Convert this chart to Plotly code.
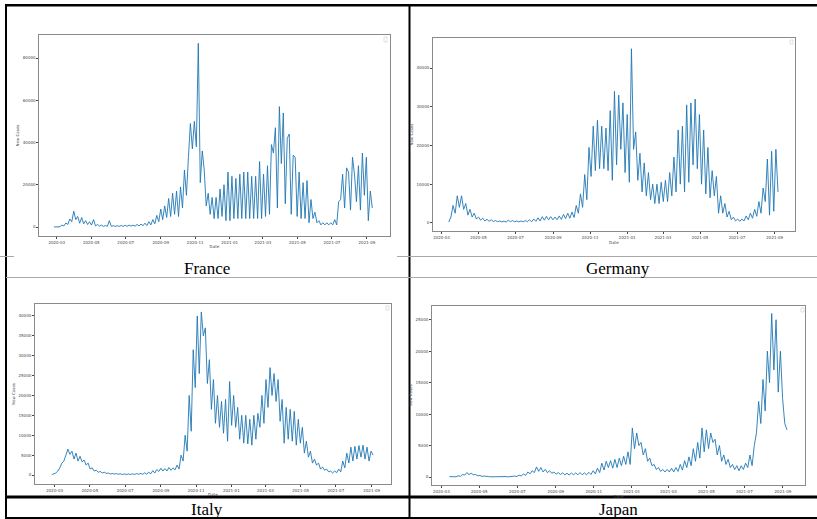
import pandas as pd
import plotly.graph_objects as go

W, H = 817, 519

# ---- data: daily new cases at half-week steps ----
france_start = "2020-02-25"
france_cases = [
    20, 10, 250, 100, 900, 500, 1900, 1200, 3800, 2500, 7500, 3500, 5000, 1800, 4500, 1500,
    3000, 1200, 2500, 900, 3500, 500, 1200, 400, 900, 300, 700, 300, 3000, 300, 600, 300,
    600, 300, 700, 300, 800, 300, 900, 400, 900, 400, 1200, 500, 1400, 600, 1800, 700,
    2500, 1000, 3500, 1500, 5500, 2500, 8500, 3500, 10000, 4500, 13500, 5000, 16000, 6000,
    17000, 5000, 19000, 9000, 27000, 15000, 33000, 49000, 37000, 50000, 38000, 87000,
    21000, 36000, 27000, 10000, 16000, 6000, 14000, 4000, 14000, 4000, 18000, 5000,
    20000, 3000, 26000, 3000, 24000, 4000, 23000, 4000, 25000, 4000, 26000, 4000,
    26000, 4000, 24000, 4000, 24000, 4000, 31000, 4000, 25000, 5000, 29000, 6000,
    39000, 35000, 47000, 9000, 57000, 30000, 54000, 11000, 42000, 44000, 6000, 34000,
    33000, 5000, 26000, 4000, 21000, 4000, 22000, 2000, 13000, 4000, 7000, 2000,
    3000, 1000, 2000, 1000, 2000, 1000, 2000, 1000, 3500, 1000, 12000, 13000,
    25000, 9000, 28000, 26000, 8000, 33000, 25000, 12000, 29000, 8000, 35000, 15000,
    33000, 3000, 17000, 9000,
]

germany_start = "2020-03-13"
germany_cases = [
    200, 1500, 4500, 2500, 7000, 4000, 7000, 3500, 5000, 2000, 3500, 1500, 2500, 1000,
    1500, 700, 1200, 500, 900, 400, 800, 350, 600, 300, 500, 250, 450, 200, 700, 300,
    600, 300, 500, 250, 500, 250, 600, 300, 800, 300, 1000, 400, 1300, 500, 1600, 700,
    1700, 800, 1600, 800, 1500, 800, 1800, 900, 2200, 1100, 2500, 1200, 2800, 1400,
    4500, 2500, 7500, 4000, 12500, 6000, 19500, 12000, 25000, 13500, 26500, 14000,
    25000, 14000, 24500, 13500, 29000, 11000, 34000, 15000, 33000, 19000, 31000, 13000,
    28000, 10500, 45000, 19000, 23500, 11000, 18000, 8000, 15500, 7000, 13000, 6000,
    10000, 5000, 10000, 5000, 10500, 5500, 11000, 5500, 13000, 7000, 17000, 8000,
    24000, 10000, 25000, 8000, 30500, 10500, 31000, 15000, 32000, 14000, 28000, 10000,
    24000, 7500, 19500, 6500, 13500, 7000, 12000, 2500, 7000, 2500, 5000, 1500,
    3000, 800, 1500, 500, 1000, 400, 1000, 500, 1800, 800, 2500, 1200, 3500, 1700,
    5500, 2500, 9000, 5500, 16500, 2000, 18500, 3000, 19000, 8000,
]

italy_start = "2020-02-25"
italy_cases = [
    100, 300, 500, 1000, 1800, 3000, 3500, 5000, 6500, 5200, 6000, 4000, 5500, 3500,
    4700, 3300, 3800, 2500, 3000, 1500, 1800, 1000, 1200, 700, 900, 500, 700, 400,
    500, 250, 400, 250, 350, 200, 300, 150, 250, 150, 250, 150, 300, 150, 350, 200,
    400, 200, 550, 250, 700, 300, 1100, 500, 1400, 900, 1700, 1000, 1600, 1000,
    1900, 1200, 1800, 1300, 2500, 1500, 5000, 3500, 10000, 6000, 20000, 11000,
    31500, 22000, 40000, 25500, 41000, 35000, 37000, 23000, 29000, 16500, 24000, 13000,
    20000, 12000, 18500, 10500, 19000, 8500, 23500, 12500, 20000, 12000, 17000, 9000,
    15000, 8000, 15000, 7800, 14000, 7500, 15000, 9000, 15500, 12000, 20000, 13000,
    24000, 17000, 27000, 20000, 25500, 18500, 24000, 13500, 19000, 8000, 17000, 9000,
    16500, 8500, 16000, 7500, 14000, 8000, 12000, 5500, 8500, 4500, 6000, 3000,
    4000, 2500, 3000, 1500, 2000, 1200, 1500, 800, 1000, 500, 1000, 600, 1500, 800,
    3500, 1800, 5500, 3000, 7000, 3500, 7200, 4000, 7400, 4500, 7500, 4000,
    7000, 3500, 6000, 5000,
]

japan_start = "2020-03-14"
japan_cases = [
    60, 30, 80, 40, 200, 100, 400, 300, 700, 400, 600, 350, 400, 200, 250, 100,
    150, 60, 80, 30, 50, 30, 60, 30, 60, 30, 70, 30, 90, 50, 150, 80,
    300, 150, 500, 250, 800, 500, 1000, 700, 1600, 900, 1500, 800, 1200, 700,
    1000, 600, 800, 450, 700, 400, 650, 350, 600, 300, 650, 350, 650, 350,
    700, 350, 650, 350, 750, 400, 1000, 500, 1400, 700, 2200, 1100, 2500, 1500,
    2600, 1400, 2800, 1500, 3000, 1800, 3300, 2000, 4000, 2000, 7800, 4500,
    7000, 5000, 5500, 3500, 4500, 2500, 3000, 1800, 2000, 1200, 1500, 900,
    1200, 800, 1200, 800, 1400, 800, 1500, 900, 2000, 1100, 2600, 1500,
    3200, 1800, 4500, 2500, 5500, 3000, 7800, 4000, 7500, 4500, 7000, 5500,
    6000, 3500, 5000, 2500, 3500, 2000, 2800, 1500, 2000, 1200, 1800, 1000,
    1800, 1200, 2200, 1500, 3500, 1800, 5000, 7000, 12000, 8500, 15500, 10500,
    20000, 15000, 26000, 17000, 25000, 13500, 20000, 12500, 8500, 7500,
]

countries = ["France", "Germany", "Italy", "Japan"]
starts = [france_start, germany_start, italy_start, japan_start]
series = [france_cases, germany_cases, italy_cases, japan_cases]

# axis boxes in pixels (left, right, top, bottom)
boxes = [(39.3, 389.5, 35, 236), (433, 794.7, 38.3, 231),
         (35, 390.7, 304, 484), (432, 805.3, 305.7, 485)]
x_ranges = [["2020-01-30", "2021-10-11"], ["2020-02-16", "2021-10-04"],
            ["2020-01-27", "2021-10-04"], ["2020-02-15", "2021-10-07"]]
y_ranges = [[-4260, 90900], [-2100, 47700], [-2260, 43000], [-1270, 27230]]
y_dticks = [20000, 10000, 5000, 5000]
label_pos = [(207, 268), (618, 268), (207, 509), (618, 509)]


def px(x):
    return x / W


def py(y):
    return 1 - y / H


fig = go.Figure()
layout = dict(width=W, height=H, margin=dict(l=0, r=0, t=0, b=0),
              paper_bgcolor="white", plot_bgcolor="white", showlegend=False)

tickfont = dict(family="DejaVu Sans", size=4, color="#444")
for i, (name, start, vals) in enumerate(zip(countries, starts, series)):
    n = i + 1
    sx = "" if n == 1 else str(n)
    dates = pd.date_range(start, periods=len(vals), freq="84h")
    fig.add_trace(go.Scatter(x=dates, y=vals, mode="lines", name=name,
                             line=dict(color="#1f77b4", width=0.9),
                             xaxis="x" + sx, yaxis="y" + sx))
    l, r, t, b = boxes[i]
    layout["xaxis" + sx] = dict(
        domain=[px(l), px(r)], anchor="y" + sx, type="date", range=x_ranges[i],
        dtick="M2", tick0="2020-01-01", tickformat="%Y-%m", ticks="outside",
        ticklen=2, tickwidth=0.6, tickcolor="#444", tickfont=tickfont,
        showgrid=False, zeroline=False, showline=True, mirror=True,
        linecolor="#8a8a8a", linewidth=0.9,
        title=dict(text="Date", font=dict(family="DejaVu Sans", size=4, color="#444"), standoff=1))
    layout["yaxis" + sx] = dict(
        domain=[py(b), py(t)], anchor="x" + sx, range=y_ranges[i],
        dtick=y_dticks[i], tick0=0, tickformat="d", ticks="outside",
        ticklen=2, tickwidth=0.6, tickcolor="#444", tickfont=tickfont,
        showgrid=False, zeroline=False, showline=True, mirror=True,
        linecolor="#8a8a8a", linewidth=0.9,
        title=dict(text="New Cases", font=dict(family="DejaVu Sans", size=4, color="#444"), standoff=3))

# table frame lines
shapes = []


def hline(y, x0, x1, color, w):
    shapes.append(dict(type="line", xref="paper", yref="paper", x0=px(x0), x1=px(x1),
                       y0=py(y), y1=py(y), line=dict(color=color, width=w)))


def vline(x, y0, y1, color, w):
    shapes.append(dict(type="line", xref="paper", yref="paper", x0=px(x), x1=px(x),
                       y0=py(y0), y1=py(y1), line=dict(color=color, width=w)))


hline(5.3, 5, 817, "black", 2.5)
vline(6, 4, 519, "black", 2)
vline(409.5, 4, 519, "black", 2)
hline(256.5, 0, 14, "#aaaaaa", 1)
hline(256.5, 397, 817, "#aaaaaa", 1)
hline(277.5, 6, 817, "#aaaaaa", 1)
hline(497, 5, 817, "black", 3)
hline(518, 5, 817, "black", 2)

# small empty legend boxes in the corner of each axes
for (x0, y0, x1, y1) in [(384, 37, 387, 42), (790, 40, 793, 44),
                         (386, 306, 389, 310), (801, 308, 804, 312)]:
    shapes.append(dict(type="rect", xref="paper", yref="paper",
                       x0=px(x0), x1=px(x1), y0=py(y1), y1=py(y0),
                       line=dict(color="#cccccc", width=0.6)))

layout["shapes"] = shapes
layout["annotations"] = [
    dict(text=name, x=px(x), y=py(y), xref="paper", yref="paper", showarrow=False,
         xanchor="center", yanchor="middle",
         font=dict(family="Liberation Serif", size=17, color="black"))
    for name, (x, y) in zip(countries, label_pos)
]

fig.update_layout(**layout)
fig.write_html("out.html", config={"displayModeBar": False},
               post_script="document.body.style.margin='0';document.body.style.overflow='hidden';")
